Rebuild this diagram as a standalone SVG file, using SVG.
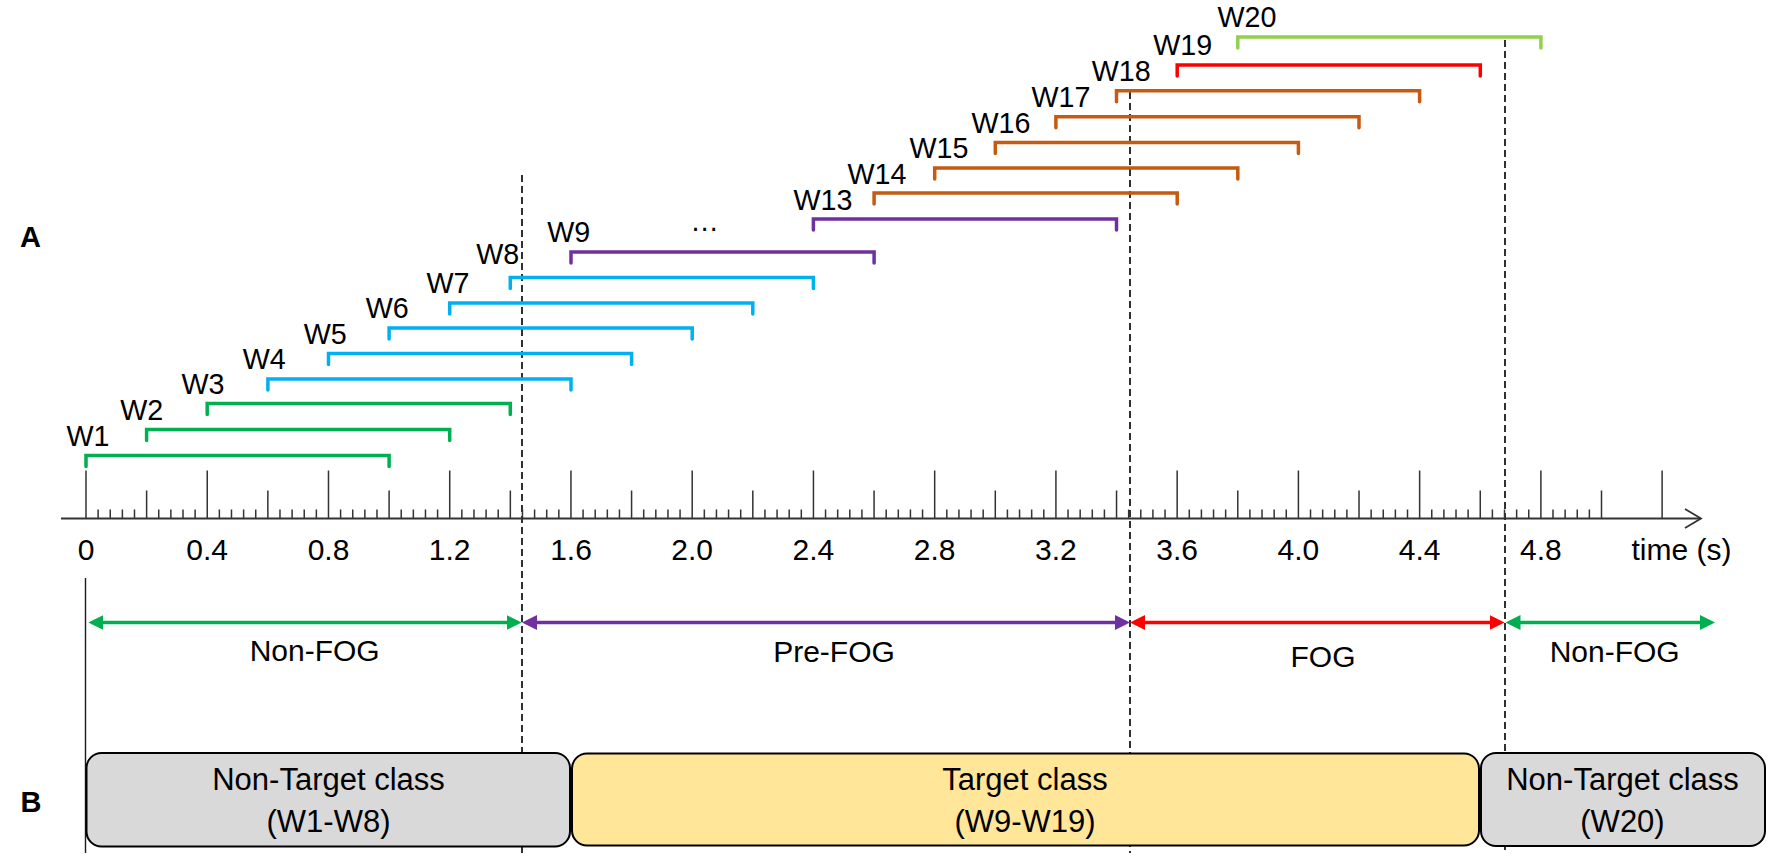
<svg xmlns="http://www.w3.org/2000/svg" width="1772" height="859" viewBox="0 0 1772 859">
<style>
  text { font-family: "Liberation Sans", Arial, sans-serif; fill: #000; }
  .wl { font-size: 28.7px; text-anchor: middle; }
  .tl { font-size: 30px; text-anchor: middle; }
  .pl { font-size: 30px; text-anchor: middle; }
  .bl { font-size: 31px; text-anchor: middle; }
  .panel { font-size: 29px; font-weight: bold; text-anchor: middle; }
  .br { fill: none; stroke-width: 3.5; stroke-linejoin: miter; stroke-linecap: round; }
  .green { stroke: #00b050; }
  .blue { stroke: #00b0f0; }
  .purple { stroke: #7030a0; }
  .orange { stroke: #c55a11; }
  .red { stroke: #ff0000; }
  .lgreen { stroke: #92d050; }
  .dash { stroke: #1a1a1a; stroke-width: 1.8; stroke-dasharray: 7 4; fill: none; }
  .tick { stroke: #333; stroke-width: 1.5; fill: none; }
  .arr { fill: none; stroke-width: 3.5; }
  .box { stroke: #000; stroke-width: 2; }
</style>
<defs>
  <marker id="ah-green" viewBox="0 0 15 15" refX="11" refY="7.5" markerWidth="15" markerHeight="15" markerUnits="userSpaceOnUse" orient="auto-start-reverse">
    <path d="M0,0 L15,7.5 L0,15 Z" fill="#00b050"/>
  </marker>
  <marker id="ah-purple" viewBox="0 0 15 15" refX="11" refY="7.5" markerWidth="15" markerHeight="15" markerUnits="userSpaceOnUse" orient="auto-start-reverse">
    <path d="M0,0 L15,7.5 L0,15 Z" fill="#7030a0"/>
  </marker>
  <marker id="ah-red" viewBox="0 0 15 15" refX="11" refY="7.5" markerWidth="15" markerHeight="15" markerUnits="userSpaceOnUse" orient="auto-start-reverse">
    <path d="M0,0 L15,7.5 L0,15 Z" fill="#ff0000"/>
  </marker>
</defs>
<rect width="1772" height="859" fill="#fff"/>

<text class="panel" x="30.5" y="246.7">A</text>
<text class="panel" x="31" y="811.5">B</text>

<!-- dashed dividers -->
<g id="dividers">
  <line class="dash" x1="522" y1="175" x2="522" y2="853"/>
  <line class="dash" x1="1130" y1="92" x2="1130" y2="853"/>
  <line class="dash" x1="1505" y1="40" x2="1505" y2="853"/>
  <line x1="85.5" y1="578" x2="85.5" y2="853" stroke="#1a1a1a" stroke-width="1.4"/>
</g>

<!-- time axis -->
<g id="axis">
  <line x1="61" y1="518.5" x2="1701" y2="518.5" stroke="#333" stroke-width="2"/>
  <path d="M1685,509 L1701,518.5 L1685,528" fill="none" stroke="#333" stroke-width="1.8"/>
  <path class="tick" d="M86 518.5v-48m121.24 48v-48m121.24 48v-48m121.24 48v-48m121.24 48v-48m121.24 48v-48m121.24 48v-48m121.24 48v-48m121.24 48v-48m121.24 48v-48m121.24 48v-48m121.24 48v-48m121.24 48v-48m121.24 48v-48"/>
  <path class="tick" d="M146.62 518.5v-28m121.24 28v-28m121.24 28v-28m121.24 28v-28m121.24 28v-28m121.24 28v-28m121.24 28v-28m121.24 28v-28m121.24 28v-28m121.24 28v-28m121.24 28v-28m121.24 28v-28m121.24 28v-28"/>
  <path class="tick" d="M98.124 518.5v-9m12.124 9v-9m12.124 9v-9m12.124 9v-9m24.248 9v-9m12.124 9v-9m12.124 9v-9m12.124 9v-9m24.248 9v-9m12.124 9v-9m12.124 9v-9m12.124 9v-9m24.248 9v-9m12.124 9v-9m12.124 9v-9m12.124 9v-9m24.248 9v-9m12.124 9v-9m12.124 9v-9m12.124 9v-9m24.248 9v-9m12.124 9v-9m12.124 9v-9m12.124 9v-9m24.248 9v-9m12.124 9v-9m12.124 9v-9m12.124 9v-9m24.248 9v-9m12.124 9v-9m12.124 9v-9m12.124 9v-9m24.248 9v-9m12.124 9v-9m12.124 9v-9m12.124 9v-9m24.248 9v-9m12.124 9v-9m12.124 9v-9m12.124 9v-9m24.248 9v-9m12.124 9v-9m12.124 9v-9m12.124 9v-9m24.248 9v-9m12.124 9v-9m12.124 9v-9m12.124 9v-9m24.248 9v-9m12.124 9v-9m12.124 9v-9m12.124 9v-9m24.248 9v-9m12.124 9v-9m12.124 9v-9m12.124 9v-9m24.248 9v-9m12.124 9v-9m12.124 9v-9m12.124 9v-9m24.248 9v-9m12.124 9v-9m12.124 9v-9m12.124 9v-9m24.248 9v-9m12.124 9v-9m12.124 9v-9m12.124 9v-9m24.248 9v-9m12.124 9v-9m12.124 9v-9m12.124 9v-9m24.248 9v-9m12.124 9v-9m12.124 9v-9m12.124 9v-9m24.248 9v-9m12.124 9v-9m12.124 9v-9m12.124 9v-9m24.248 9v-9m12.124 9v-9m12.124 9v-9m12.124 9v-9m24.248 9v-9m12.124 9v-9m12.124 9v-9m12.124 9v-9m24.248 9v-9m12.124 9v-9m12.124 9v-9m12.124 9v-9m24.248 9v-9m12.124 9v-9m12.124 9v-9m12.124 9v-9m24.248 9v-9m12.124 9v-9m12.124 9v-9m12.124 9v-9"/>
  <text class="tl" x="86" y="560">0</text>
  <text class="tl" x="207.2" y="560">0.4</text>
  <text class="tl" x="328.5" y="560">0.8</text>
  <text class="tl" x="449.7" y="560">1.2</text>
  <text class="tl" x="571" y="560">1.6</text>
  <text class="tl" x="692.2" y="560">2.0</text>
  <text class="tl" x="813.4" y="560">2.4</text>
  <text class="tl" x="934.7" y="560">2.8</text>
  <text class="tl" x="1055.9" y="560">3.2</text>
  <text class="tl" x="1177.2" y="560">3.6</text>
  <text class="tl" x="1298.4" y="560">4.0</text>
  <text class="tl" x="1419.6" y="560">4.4</text>
  <text class="tl" x="1540.9" y="560">4.8</text>
  <text class="tl" x="1681.5" y="560">time (s)</text>
</g>

<!-- windows -->
<g id="W1"><path class="br green" d="M86 466.5V455.5H389.1V466.5"/><text class="wl" x="88" y="445.5">W1</text></g>
<g id="W2"><path class="br green" d="M146.6 440.5V429.5H449.7V440.5"/><text class="wl" x="141.7" y="419.5">W2</text></g>
<g id="W3"><path class="br green" d="M207.2 414.5V403.5H510.3V414.5"/><text class="wl" x="203" y="393.5">W3</text></g>
<g id="W4"><path class="br blue" d="M267.9 390V379H571V390"/><text class="wl" x="264.3" y="369">W4</text></g>
<g id="W5"><path class="br blue" d="M328.5 364.5V353.5H631.6V364.5"/><text class="wl" x="325.3" y="343.5">W5</text></g>
<g id="W6"><path class="br blue" d="M389.1 339V328H692.2V339"/><text class="wl" x="387.2" y="318">W6</text></g>
<g id="W7"><path class="br blue" d="M449.7 314V303H752.8V314"/><text class="wl" x="448" y="293">W7</text></g>
<g id="W8"><path class="br blue" d="M510.3 288.5V277.5H813.4V288.5"/><text class="wl" x="497.7" y="264">W8</text></g>
<g id="W9"><path class="br purple" d="M571 263V252H874.1V263"/><text class="wl" x="568.7" y="242">W9</text></g>
<g id="ellipsis"><text class="wl" x="704.5" y="231">…</text></g>
<g id="W13"><path class="br purple" d="M813.4 230V219H1116.5V230"/><text class="wl" x="823" y="209.5">W13</text></g>
<g id="W14"><path class="br orange" d="M874.1 204V193H1177.2V204"/><text class="wl" x="877" y="183.5">W14</text></g>
<g id="W15"><path class="br orange" d="M934.7 179V168H1237.8V179"/><text class="wl" x="939" y="158">W15</text></g>
<g id="W16"><path class="br orange" d="M995.3 153.5V142.5H1298.4V153.5"/><text class="wl" x="1001" y="132.5">W16</text></g>
<g id="W17"><path class="br orange" d="M1055.9 127.7V116.7H1359V127.7"/><text class="wl" x="1061" y="107">W17</text></g>
<g id="W18"><path class="br orange" d="M1116.5 101.7V90.7H1419.6V101.7"/><text class="wl" x="1121.3" y="81">W18</text></g>
<g id="W19"><path class="br red" d="M1177.2 76V65H1480.3V76"/><text class="wl" x="1182.7" y="55">W19</text></g>
<g id="W20"><path class="br lgreen" d="M1237.8 48V37H1540.9V48"/><text class="wl" x="1247" y="27">W20</text></g>

<!-- period arrows -->
<g id="connectors">
  <line class="arr" x1="92.3" y1="622.5" x2="517.7" y2="622.5" stroke="#00b050" marker-start="url(#ah-green)" marker-end="url(#ah-green)"/>
  <line class="arr" x1="526" y1="622.5" x2="1126" y2="622.5" stroke="#7030a0" marker-start="url(#ah-purple)" marker-end="url(#ah-purple)"/>
  <line class="arr" x1="1134" y1="622.5" x2="1500.5" y2="622.5" stroke="#ff0000" marker-start="url(#ah-red)" marker-end="url(#ah-red)"/>
  <line class="arr" x1="1509.5" y1="622.5" x2="1711" y2="622.5" stroke="#00b050" marker-start="url(#ah-green)" marker-end="url(#ah-green)"/>
</g>
<g id="period-labels">
  <text class="pl" x="314.7" y="661">Non-FOG</text>
  <text class="pl" x="834" y="661.5">Pre-FOG</text>
  <text class="pl" x="1323" y="666.5">FOG</text>
  <text class="pl" x="1614.7" y="661.5">Non-FOG</text>
</g>

<!-- class boxes -->
<g id="box-nontarget-1">
  <rect class="box" x="86.5" y="753" width="483.5" height="93.5" rx="15" fill="#d9d9d9"/>
  <text class="bl" x="328.5" y="790">Non-Target class</text>
  <text class="bl" x="328.5" y="832">(W1-W8)</text>
</g>
<g id="box-target">
  <rect class="box" x="572" y="753.5" width="907" height="92" rx="15" fill="#ffe699"/>
  <text class="bl" x="1025" y="790">Target class</text>
  <text class="bl" x="1025" y="832">(W9-W19)</text>
</g>
<g id="box-nontarget-2">
  <rect class="box" x="1481" y="753" width="284" height="93" rx="15" fill="#d9d9d9"/>
  <text class="bl" x="1622.5" y="790">Non-Target class</text>
  <text class="bl" x="1622.5" y="832">(W20)</text>
</g>
</svg>
